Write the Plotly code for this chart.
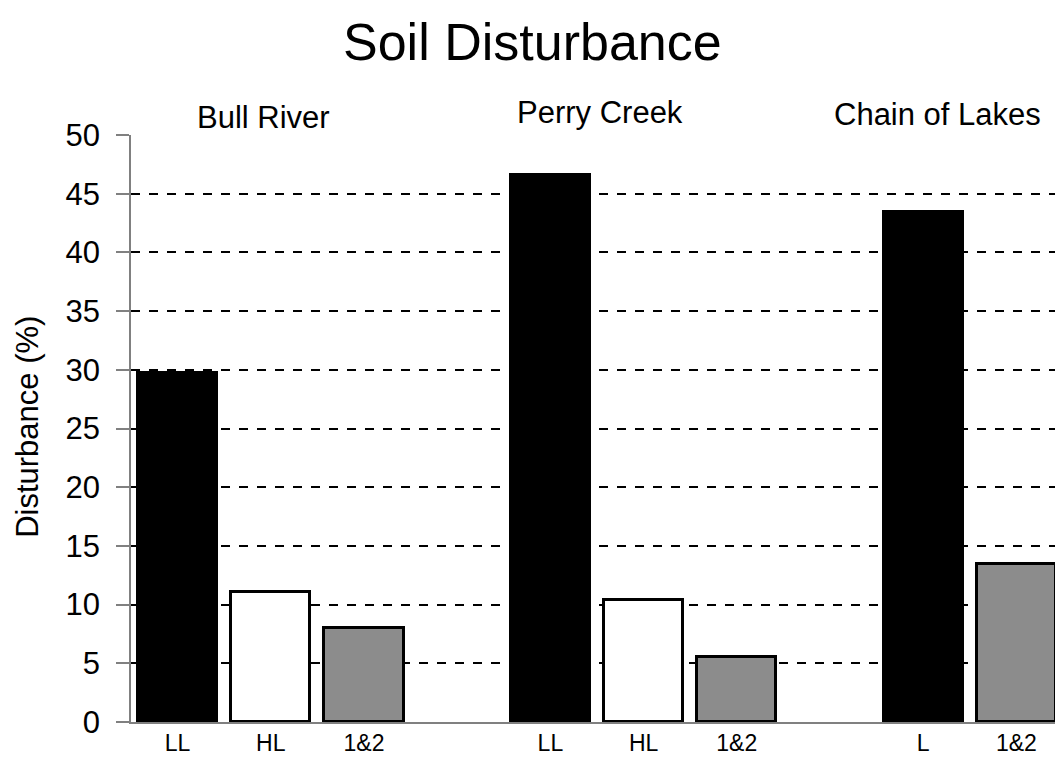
import plotly.graph_objects as go

groups = ["Bull River", "Perry Creek", "Chain of Lakes"]
group_labels = [["LL", "HL", "1&2"], ["LL", "HL", "1&2"], ["L", "1&2"]]
group_values = [[29.7, 11.1, 8.0], [46.6, 10.4, 5.5], [43.4, 13.5]]
group_colors = [["#000000", "#ffffff", "#8c8c8c"],
                ["#000000", "#ffffff", "#8c8c8c"],
                ["#000000", "#8c8c8c"]]
y_ticks = [0, 5, 10, 15, 20, 25, 30, 35, 40, 45, 50]

FONT = "Liberation Sans, Arial, sans-serif"

xs, ys, cols, texts = [], [], [], []
start = 0
for labels, vals, cs in zip(group_labels, group_values, group_colors):
    pos = [start + i for i in range(len(labels))]
    xs += pos
    ys += vals
    cols += cs
    texts += labels
    start += 4

fig = go.Figure()
fig.add_trace(go.Bar(
    x=xs, y=ys, width=0.85,
    marker=dict(color=cols, line=dict(color="#000000", width=3)),
    showlegend=False, hoverinfo="x+y",
))

# group header placement (paper coords)
ann_x = [0.142, 0.503, 0.865]
ann_y = [1.030, 1.038, 1.035]
for g, ax, ay in zip(groups, ann_x, ann_y):
    fig.add_annotation(x=ax, y=ay, xref="paper", yref="paper", text=g,
                       showarrow=False, font=dict(size=31, color="#000", family=FONT),
                       xanchor="center", yanchor="middle")

fig.add_annotation(x=-0.111, y=0.502, xref="paper", yref="paper", text="Disturbance (%)",
                   textangle=-90, showarrow=False,
                   font=dict(size=31, color="#000", family=FONT),
                   xanchor="center", yanchor="middle")

fig.update_layout(
    width=1055, height=757,
    margin=dict(l=123, r=0, t=127, b=43),
    paper_bgcolor="white", plot_bgcolor="white",
    title=dict(text="Soil Disturbance", x=0.497, xanchor="center", y=0.955, yanchor="middle",
               font=dict(size=52, color="#000", family=FONT)),
    font=dict(family=FONT, color="#000"),
    bargap=0,
    xaxis=dict(range=[-0.5, 9.5], tickvals=xs, ticktext=texts, showgrid=False,
               showline=True, linecolor="#808080", linewidth=1.5, ticks="",
               tickfont=dict(size=23, color="#000", family=FONT), zeroline=False),
    yaxis=dict(range=[0, 50], tickvals=y_ticks, showgrid=True, gridcolor="#000000",
               griddash="dash", gridwidth=1.5, showline=True, linecolor="#808080",
               linewidth=1.5, ticks="outside", ticklen=13, tickcolor="#808080",
               tickwidth=1.5, tickfont=dict(size=31, color="#000", family=FONT),
               ticklabelstandoff=10, zeroline=False),
)

fig.write_html("out.html")
